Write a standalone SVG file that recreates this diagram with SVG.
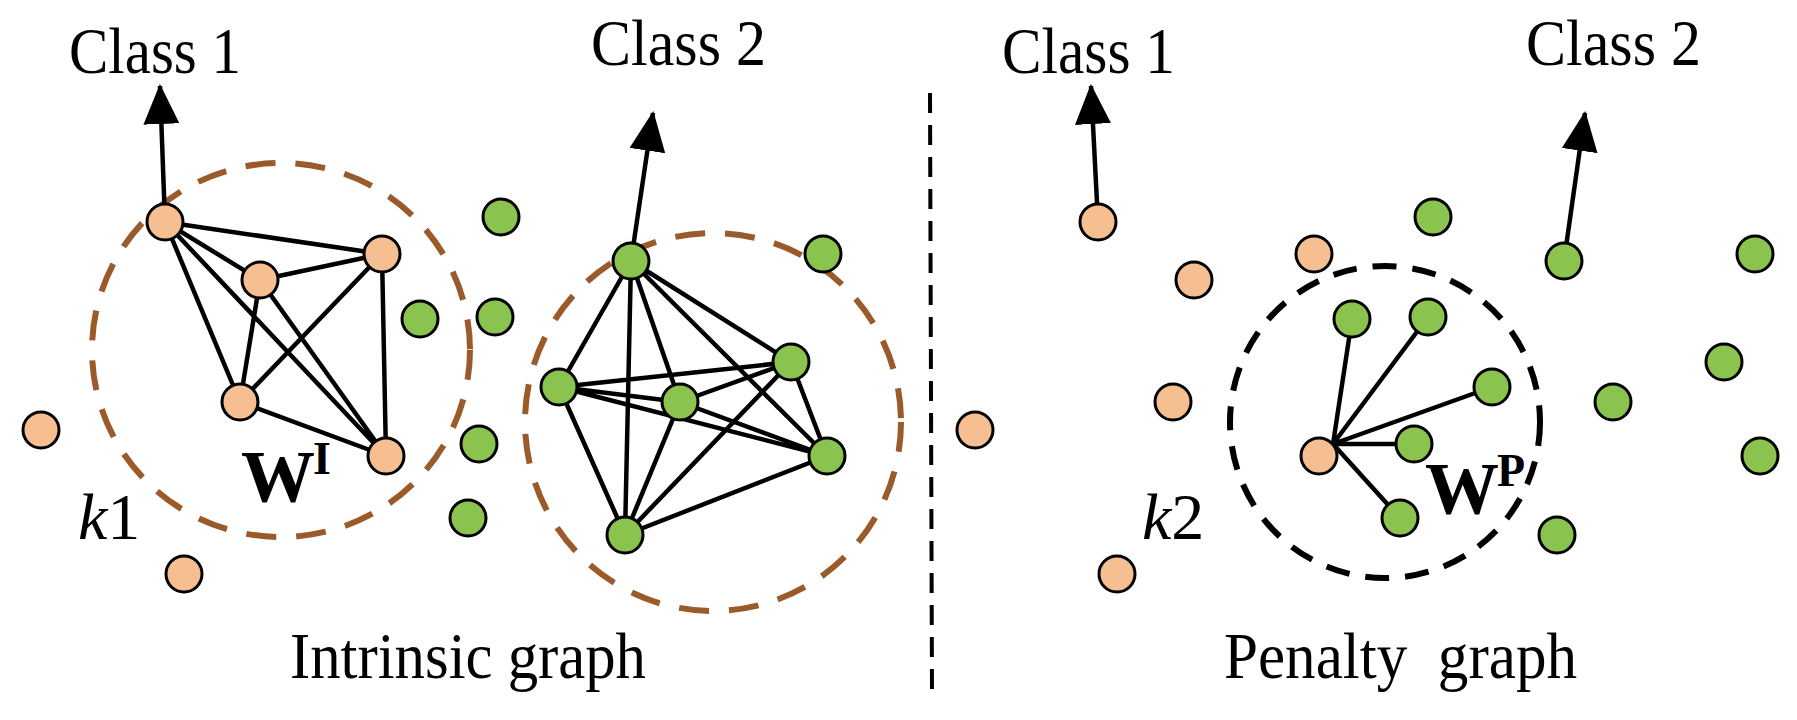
<svg xmlns="http://www.w3.org/2000/svg" width="1797" height="720" viewBox="0 0 1797 720">
<style>
.o{fill:#f5bf91;stroke:#000;stroke-width:3}
.g{fill:#8bc34f;stroke:#000;stroke-width:3}
.e{stroke:#000;stroke-width:4.5;fill:none}
.t{font-family:"Liberation Serif",serif;font-size:66px;fill:#000}
.b{font-family:"Liberation Serif",serif;font-weight:bold;fill:#000}
.br{fill:none;stroke:#9b5a2a;stroke-width:6;stroke-dasharray:30 20}
</style>
<defs>
<marker id="a" viewBox="0 0 40 36" refX="38" refY="18" markerWidth="40" markerHeight="36" orient="auto" markerUnits="userSpaceOnUse"><path d="M0,0L40,18L0,36z" fill="#000"/></marker></defs>
<rect width="1797" height="720" fill="#fff"/>
<g id="texts">
<text class="t" x="69" y="73" textLength="172" lengthAdjust="spacingAndGlyphs">Class 1</text>
<text class="t" x="591" y="65" textLength="175" lengthAdjust="spacingAndGlyphs">Class 2</text>
<text class="t" x="1002" y="73" textLength="173" lengthAdjust="spacingAndGlyphs">Class 1</text>
<text class="t" x="1526" y="65" textLength="175" lengthAdjust="spacingAndGlyphs">Class 2</text>
<text class="t" x="290" y="678" textLength="356" lengthAdjust="spacingAndGlyphs">Intrinsic graph</text>
<text class="t" x="1224" y="678" textLength="353" lengthAdjust="spacingAndGlyphs" xml:space="preserve">Penalty  graph</text>
<text class="t" x="78" y="539" font-size="88" font-style="italic">k<tspan font-style="normal">1</tspan></text>
<text class="t" x="1142" y="539" font-size="88" font-style="italic">k<tspan font-style="normal">2</tspan></text>
<text class="b" x="241" y="502" font-size="74">W</text><text class="b" x="313" y="474" font-size="46">I</text>
<text class="b" x="1425" y="514" font-size="74">W</text><text class="b" x="1497" y="486" font-size="46">P</text>
</g>
<g id="regions">
<ellipse class="br" cx="281" cy="350" rx="189" ry="187"/>
<ellipse class="br" cx="713" cy="422" rx="188" ry="189"/>
<ellipse fill="none" stroke="#000" stroke-width="6" stroke-dasharray="24 16" cx="1385" cy="422" rx="155" ry="156"/>
<line x1="930" y1="93" x2="932" y2="697" stroke="#000" stroke-width="4" stroke-dasharray="20 12"/>
</g>
<g id="connectors" class="e">
<line x1="165" y1="222" x2="160" y2="86" marker-end="url(#a)"/>
<line x1="631" y1="261" x2="653" y2="113" marker-end="url(#a)"/>
<line x1="1098" y1="222" x2="1091" y2="86" marker-end="url(#a)"/>
<line x1="1564" y1="261" x2="1585" y2="113" marker-end="url(#a)"/>
<path d="M165,222L260,280M165,222L382,254M165,222L240,402M165,222L386,456M260,280L382,254M260,280L240,402M260,280L386,456M382,254L240,402M382,254L386,456M240,402L386,456"/>
<path d="M631,261L791,362M631,261L559,387M631,261L680,402M631,261L827,456M631,261L625,535M791,362L559,387M791,362L680,402M791,362L827,456M791,362L625,535M559,387L680,402M559,387L827,456M559,387L625,535M680,402L827,456M680,402L625,535M827,456L625,535"/>
<path d="M1333,444L1352,319M1333,444L1428,317M1333,444L1492,387M1333,444L1414,444M1333,444L1400,518"/>
</g>
<g id="nodes">
<circle id="l1" class="o" cx="165" cy="222" r="18"/><circle id="l2" class="o" cx="260" cy="280" r="18"/><circle id="l3" class="o" cx="382" cy="254" r="18"/><circle id="l4" class="o" cx="240" cy="402" r="18"/><circle id="l5" class="o" cx="386" cy="456" r="18"/><circle id="l6" class="o" cx="41" cy="430" r="18"/><circle id="l7" class="o" cx="184" cy="574" r="18"/>
<circle id="lg1" class="g" cx="501" cy="217" r="18"/><circle id="lg2" class="g" cx="420" cy="319" r="18"/><circle id="lg3" class="g" cx="495" cy="317" r="18"/><circle id="lg4" class="g" cx="479" cy="444" r="18"/><circle id="lg5" class="g" cx="468" cy="518" r="18"/><circle id="lg6" class="g" cx="823" cy="254" r="18"/>
<circle id="p1" class="g" cx="631" cy="261" r="18"/><circle id="p2" class="g" cx="791" cy="362" r="18"/><circle id="p3" class="g" cx="559" cy="387" r="18"/><circle id="p4" class="g" cx="680" cy="402" r="18"/><circle id="p5" class="g" cx="827" cy="456" r="18"/><circle id="p6" class="g" cx="625" cy="535" r="18"/>
<circle id="r1" class="o" cx="1098" cy="222" r="18"/><circle id="r2" class="o" cx="1314" cy="254" r="18"/><circle id="r3" class="o" cx="1194" cy="280" r="18"/><circle id="r4" class="o" cx="1173" cy="402" r="18"/><circle id="r5" class="o" cx="975" cy="430" r="18"/><circle id="r6" class="o" cx="1319" cy="456" r="18"/><circle id="r7" class="o" cx="1117" cy="574" r="18"/>
<circle id="rg1" class="g" cx="1433" cy="217" r="18"/><circle id="rg2" class="g" cx="1564" cy="261" r="18"/><circle id="rg3" class="g" cx="1755" cy="254" r="18"/><circle id="rg4" class="g" cx="1352" cy="319" r="18"/><circle id="rg5" class="g" cx="1428" cy="317" r="18"/><circle id="rg6" class="g" cx="1492" cy="387" r="18"/><circle id="rg7" class="g" cx="1724" cy="362" r="18"/><circle id="rg8" class="g" cx="1613" cy="402" r="18"/><circle id="rg9" class="g" cx="1414" cy="444" r="18"/><circle id="rg10" class="g" cx="1760" cy="456" r="18"/><circle id="rg11" class="g" cx="1400" cy="518" r="18"/><circle id="rg12" class="g" cx="1557" cy="535" r="18"/>
</g>
</svg>
